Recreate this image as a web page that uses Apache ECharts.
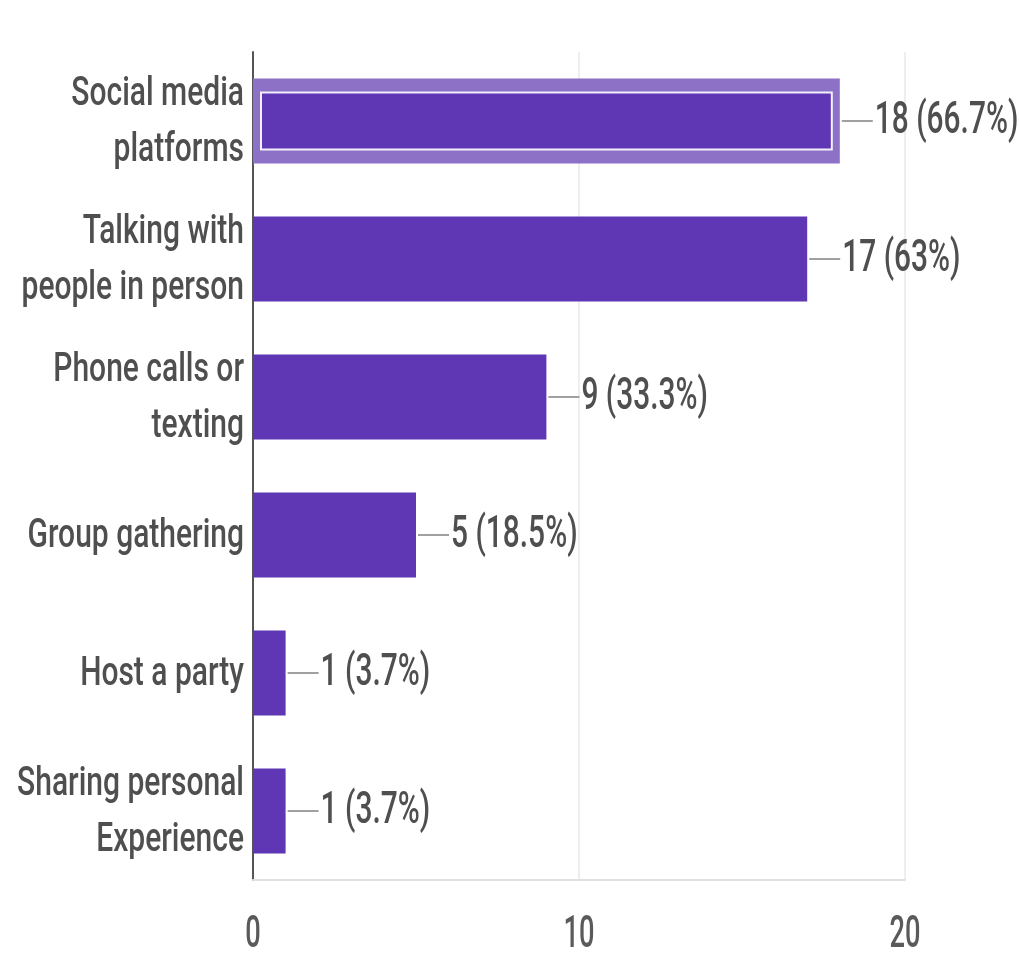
<!DOCTYPE html>
<html>
<head>
<meta charset="utf-8">
<script src="https://cdn.jsdelivr.net/npm/echarts@6/dist/echarts.min.js"></script>
<style>
  html, body { margin: 0; padding: 0; background: #ffffff; }
  #chart { width: 1019px; height: 955px; }
</style>
</head>
<body>
<div id="chart"></div>
<script>
// Survey answers, listed top to bottom
const categories = [
  'Social media\nplatforms',
  'Talking with\npeople in person',
  'Phone calls or\ntexting',
  'Group gathering',
  'Host a party',
  'Sharing personal\nExperience'
];
const counts = [18, 17, 9, 5, 1, 1];
const shares = ['66.7%', '63%', '33.3%', '18.5%', '3.7%', '3.7%'];
const xTicks = [0, 10, 20];

const FONT = 'Roboto, "Noto Sans", sans-serif';
const BAR = '#5f37b4';
const BAR_HI = '#8c71c6';
const TEXT = '#4f4f4f';

const chart = echarts.init(document.getElementById('chart'), null, { renderer: 'canvas' });

chart.setOption({
  animation: false,
  backgroundColor: '#ffffff',
  grid: { left: 253, right: 114, top: 52, bottom: 75, containLabel: false, outerBoundsMode: 'none' },
  xAxis: {
    type: 'value',
    min: xTicks[0],
    max: xTicks[xTicks.length - 1],
    interval: xTicks[1] - xTicks[0],
    axisLine: { show: true, lineStyle: { color: '#e0e0e0', width: 2 } },
    axisTick: { show: false },
    splitLine: { show: true, lineStyle: { color: '#eeeeee', width: 2 } },
    axisLabel: { show: false }
  },
  yAxis: {
    type: 'category',
    inverse: true,
    data: categories,
    axisLine: { show: true, lineStyle: { color: '#555555', width: 2 } },
    axisTick: { show: false },
    axisLabel: { show: false }
  },
  series: [{
    type: 'bar',
    barWidth: 85,
    data: counts.map((v, i) => i === 0 ? { value: v, itemStyle: { color: BAR_HI } } : v),
    itemStyle: { color: BAR },
    z: 2
  }]
});

// Text is drawn as narrow, tall glyphs (horizontally compressed type).
const x0 = chart.convertToPixel({ xAxisIndex: 0 }, 0);
const graphics = [];

categories.forEach((name, i) => {
  const yc = chart.convertToPixel({ yAxisIndex: 0 }, i);
  const xe = chart.convertToPixel({ xAxisIndex: 0 }, counts[i]);
  graphics.push({
    type: 'text', x: x0 - 9, y: yc + 2, scaleX: 0.75, z: 10,
    style: {
      text: name, fill: TEXT, font: '500 40px ' + FONT,
      align: 'right', verticalAlign: 'middle', lineHeight: 56
    }
  });
  graphics.push({
    type: 'line', z: 10,
    shape: { x1: xe + 2, y1: yc, x2: xe + 33, y2: yc },
    style: { stroke: '#a0a0a0', lineWidth: 2 }
  });
  graphics.push({
    type: 'text', x: xe + 35, y: yc + 1, scaleX: 0.68, z: 10,
    style: {
      text: counts[i] + ' (' + shares[i] + ')', fill: TEXT, font: '500 44px ' + FONT,
      align: 'left', verticalAlign: 'middle'
    }
  });
});

xTicks.forEach(t => {
  graphics.push({
    type: 'text', x: chart.convertToPixel({ xAxisIndex: 0 }, t), y: 936, scaleX: 0.62, z: 10,
    style: {
      text: String(t), fill: '#5a5a5a', font: '500 44px ' + FONT,
      align: 'center', verticalAlign: 'middle'
    }
  });
});

// Hover outline on the first row: inner fill inset inside a lighter band
const lay = chart.getModel().getSeriesByIndex(0).getData().getItemLayout(0);
graphics.push({
  type: 'rect', z: 5,
  shape: { x: lay.x + 8, y: lay.y + 14, width: lay.width - 16, height: lay.height - 28 },
  style: { fill: BAR, stroke: '#f4f0fb', lineWidth: 2 }
});

chart.setOption({ graphic: graphics });
</script>
</body>
</html>
